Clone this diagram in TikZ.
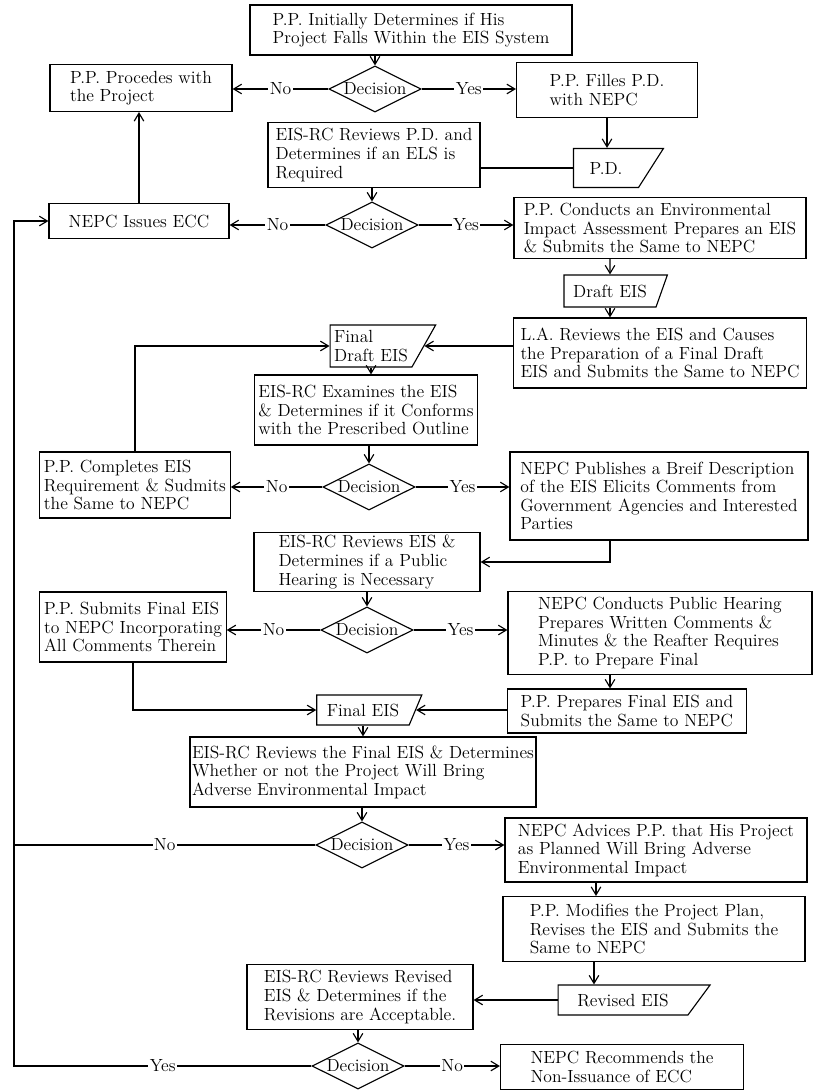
\documentclass[tikz,border=0pt]{standalone}
\usepackage{amsmath}
\usetikzlibrary{arrows.meta,shapes.geometric}

\begin{document}
\begin{tikzpicture}[
  x=0.025cm, y=-0.025cm,
  font=\fontsize{12.5}{13.2}\selectfont,
  line width=0.8pt,
  box/.style={draw, align=left, inner xsep=3pt, inner ysep=2pt},
  doc/.style={draw, trapezium, trapezium stretches=true, trapezium left angle=60, trapezium right angle=90, shape border rotate=180, inner sep=2pt, align=left},
  decision/.style={draw, diamond, aspect=2, inner sep=0pt, minimum width=23mm, minimum height=11.5mm},
  lbl/.style={fill=white, inner sep=1pt},
  arrow/.style={-{Straight Barb[length=2mm,width=2.4mm]}},
  line/.style={}
]
\useasboundingbox (0,0) rectangle (815,1091);

\node[box, minimum width=80.5mm, minimum height=12.5mm] (init) at (411,30)
  {P.P. Initially Determines if His\\Project Falls Within the EIS System};
\node[decision] (dec1) at (375,89) {Decision};
\node[box, minimum width=45.5mm, minimum height=11.75mm] (proceed) at (141,88)
  {P.P. Procedes with\\the Project};
\node[box, minimum width=45.25mm, minimum height=13.75mm] (filles) at (607,90)
  {P.P. Filles P.D.\\with NEPC};
\node[doc, trapezium left angle=50, minimum width=22.5mm, minimum height=9.75mm] (pd) at (606,168)
  {P.D.};
\node[box, minimum width=53mm, minimum height=16.25mm] (review) at (374,155)
  {EIS-RC Reviews P.D. and\\Determines if an ELS is\\Required};
\node[decision] (dec2) at (372,225) {Decision};
\node[box, minimum width=45mm, minimum height=8.75mm] (issue) at (139,221)
  {NEPC Issues ECC};
\node[box, minimum width=73mm, minimum height=15.25mm] (conduct) at (660,228)
  {P.P. Conducts an Environmental\\Impact Assessment Prepares an EIS\\\& Submits the Same to NEPC};
\node[doc, trapezium left angle=62, minimum width=26mm, minimum height=8mm] (draft) at (610,291)
  {Draft EIS};
\node[box, minimum width=73.25mm, minimum height=17.5mm] (la) at (660,353)
  {L.A. Reviews the EIS and Causes\\the Preparation of a Final Draft\\EIS and Submits the Same to NEPC};
\node[doc, trapezium left angle=58, minimum width=26.5mm, minimum height=10.5mm] (fdraft) at (371,346)
  {Final\\Draft EIS};
\node[box, minimum width=55.5mm, minimum height=17.5mm] (examine) at (366,410)
  {EIS-RC Examines the EIS\\\& Determines if it Conforms\\with the Prescribed Outline};
\node[decision] (dec3) at (369,487) {Decision};
\node[box, minimum width=45.25mm, minimum height=16.5mm] (complete) at (135,485)
  {P.P. Completes EIS\\Requirement \& Sudmits\\the Same to NEPC};
\node[box, minimum width=74.5mm, minimum height=22mm] (publish) at (659,496)
  {NEPC Publishes a Breif Description\\of the EIS Elicits Comments from\\Government Agencies and Interested\\Parties};
\node[box, minimum width=56.5mm, minimum height=14.25mm] (hearing) at (367,562)
  {EIS-RC Reviews EIS \&\\Determines if a Public\\Hearing is Necessary};
\node[decision] (dec4) at (367,630) {Decision};
\node[box, minimum width=45.75mm, minimum height=17.5mm] (submit) at (133,627)
  {P.P. Submits Final EIS\\to NEPC Incorporating\\All Comments Therein};
\node[box, minimum width=76mm, minimum height=20.75mm] (public) at (660,633)
  {NEPC Conducts Public Hearing\\Prepares Written Comments \&\\Minutes \& the Reafter Requires\\P.P. to Prepare Final};
\node[box, minimum width=59.75mm, minimum height=11mm] (prepare) at (627,711)
  {P.P. Prepares Final EIS and\\Submits the Same to NEPC};
\node[doc, minimum width=26.25mm, minimum height=7.5mm] (final) at (363,710)
  {Final EIS};
\node[box, inner xsep=1pt, minimum width=86.5mm, minimum height=17.5mm] (rfinal) at (363,772)
  {EIS-RC Reviews the Final EIS \& Determines\\Whether or not the Project Will Bring\\Adverse Environmental Impact};
\node[decision] (dec5) at (362,845) {Decision};
\node[box, minimum width=75.5mm, minimum height=16mm] (advise) at (656,850)
  {NEPC Advices P.P. that His Project\\as Planned Will Bring Adverse\\Environmental Impact};
\node[box, minimum width=75.5mm, minimum height=16.25mm] (modify) at (654,929)
  {P.P. Modifies the Project Plan,\\Revises the EIS and Submits the\\Same to NEPC};
\node[doc, trapezium left angle=48, minimum width=38.25mm, minimum height=7.5mm] (revised) at (623,1000)
  {Revised EIS};
\node[box, minimum width=56.5mm, minimum height=16.25mm] (rrevised) at (360,997)
  {EIS-RC Reviews Revised\\EIS \& Determines if the\\Revisions are Acceptable.};
\node[decision] (dec6) at (358,1066) {Decision};
\node[box, minimum width=60.75mm, minimum height=11.25mm] (recommend) at (622,1067)
  {NEPC Recommends the\\Non-Issuance of ECC};
\coordinate (rail) at (14,221);

\draw[arrow] (init.south -| dec1) -- (dec1.north);
\draw[arrow] (dec1.west) -- node[lbl]{No} (dec1.west -| proceed.east);
\draw[arrow] (dec1.east) -- node[lbl]{Yes} (dec1.east -| filles.west);
\draw[arrow] (filles.south) -- (filles.south |- pd.north);
\draw[line] (pd.west) -- (pd.west -| review.east);
\draw[arrow] (review.south -| dec2) -- (dec2.north);
\draw[arrow] (dec2.west) -- node[lbl]{No} (dec2.west -| issue.east);
\draw[arrow] (dec2.east) -- node[lbl]{Yes} (dec2.east -| conduct.west);
\draw[arrow] (issue.north) -- (issue.north |- proceed.south);
\draw[arrow] (conduct.south -| draft) -- (draft.north);
\draw[arrow] (draft.south) -- (draft.south |- la.north);
\draw[arrow] (la.west |- fdraft.east) -- (fdraft.east);
\draw[arrow] (complete.north) |- (fdraft.west);
\draw[arrow] (fdraft.south) -- (fdraft.south |- examine.north);
\draw[arrow] (examine.south -| dec3) -- (dec3.north);
\draw[arrow] (dec3.west) -- node[lbl]{No} (dec3.west -| complete.east);
\draw[arrow] (dec3.east) -- node[lbl]{Yes} (dec3.east -| publish.west);
\draw[arrow] (publish.south -| draft) |- (hearing.east);
\draw[arrow] (hearing.south -| dec4) -- (dec4.north);
\draw[arrow] (dec4.west) -- node[lbl]{No} (dec4.west -| submit.east);
\draw[arrow] (dec4.east) -- node[lbl]{Yes} (dec4.east -| public.west);
\draw[arrow] (submit.south) |- (final.west);
\draw[arrow] (public.south -| draft) -- (prepare.north -| draft);
\draw[arrow] (prepare.west |- final.east) -- (final.east);
\draw[arrow] (final.south) -- (final.south |- rfinal.north);
\draw[arrow] (rfinal.south -| dec5) -- (dec5.north);
\draw[line] (dec5.west) -- node[lbl]{No} (dec5.west -| rail);
\draw[arrow] (dec5.east) -- node[lbl]{Yes} (dec5.east -| advise.west);
\draw[arrow] ([xshift=-1.5cm]advise.south) -- ([xshift=-1.5cm]advise.south |- modify.north);
\draw[arrow] ([xshift=-1.5cm]modify.south) -- ([xshift=-1.5cm]modify.south |- revised.north);
\draw[arrow] (revised.west) -- (revised.west -| rrevised.east);
\draw[arrow] (rrevised.south -| dec6) -- (dec6.north);
\draw[arrow] (dec6.west) -- node[lbl]{Yes} (dec6.west -| rail) -- (rail) -- (issue.west);
\draw[arrow] (dec6.east) -- node[lbl]{No} (dec6.east -| recommend.west);

\end{tikzpicture}
\end{document}
